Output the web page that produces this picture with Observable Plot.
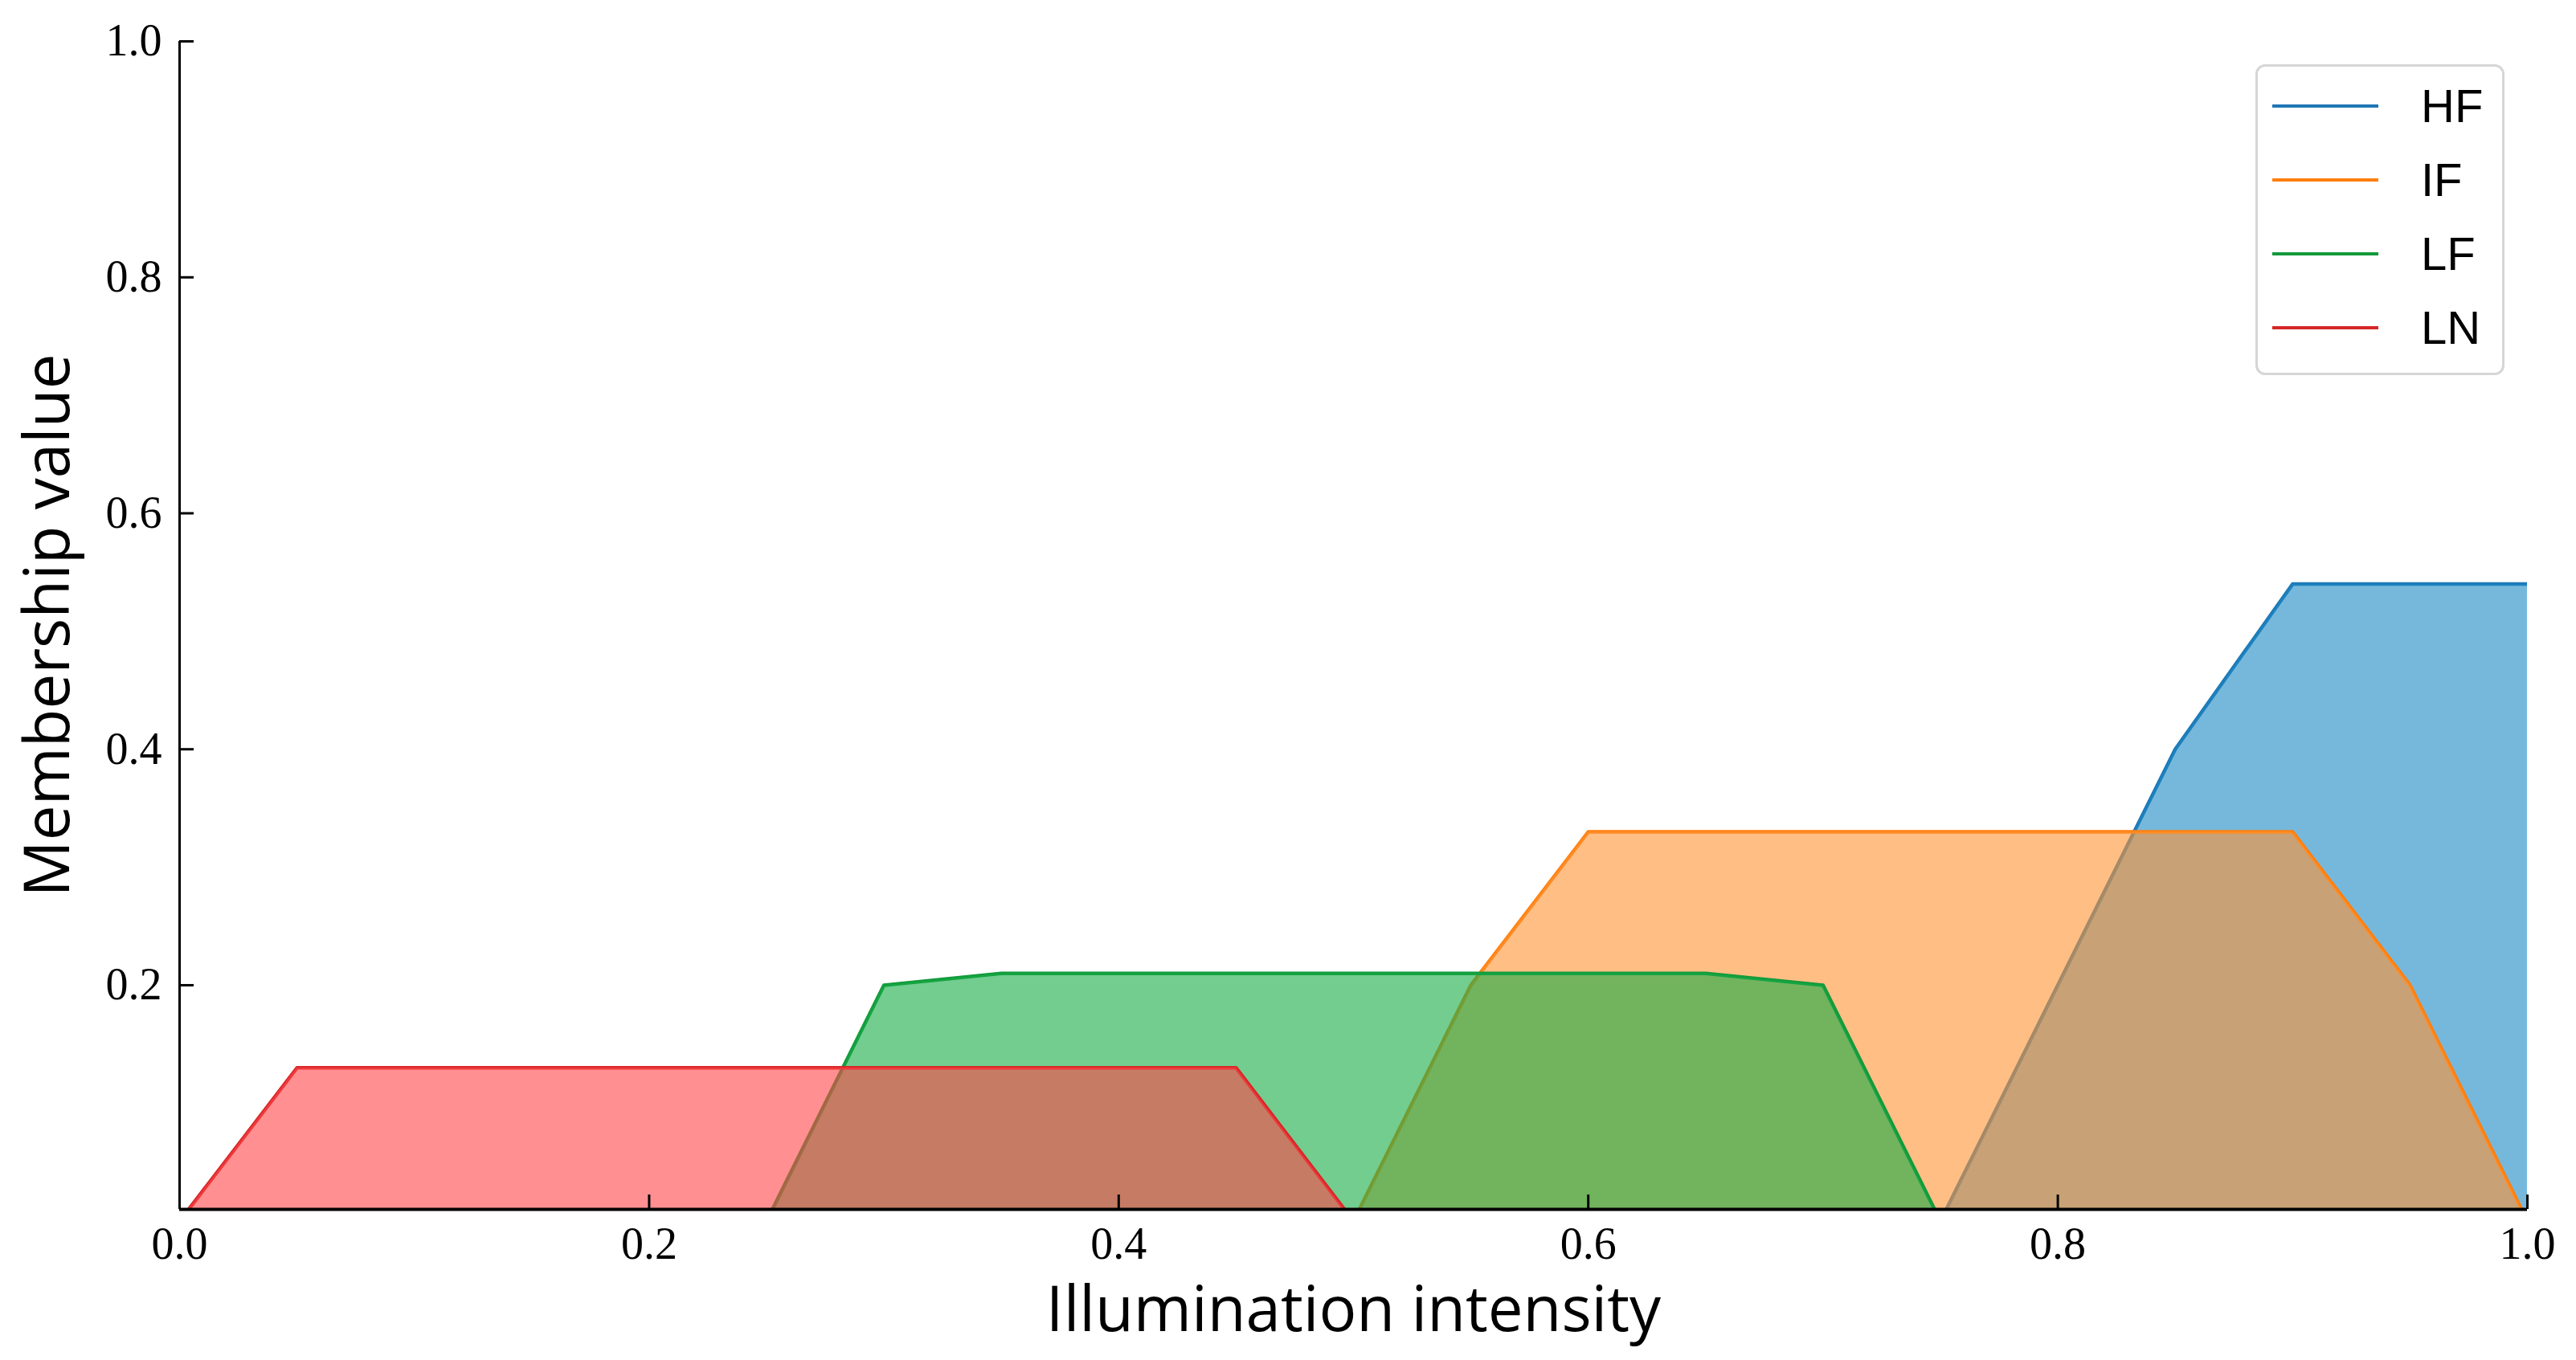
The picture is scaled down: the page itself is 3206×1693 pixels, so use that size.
<!DOCTYPE html>
<html>
<head>
<meta charset="utf-8">
<script src="https://cdn.jsdelivr.net/npm/d3@7"></script>
<script src="https://cdn.jsdelivr.net/npm/@observablehq/plot@0.6"></script>
<style>
html, body { margin: 0; padding: 0; background: #fff; }
#wrap { position: relative; width: 3206px; height: 1693px; }
#legend { position: absolute; left: 2807px; top: 80px; width: 304px; height: 381px;
  border: 3px solid #d6d6d6; border-radius: 12px; background: #fff; }
.row { position: absolute; left: 0; width: 100%; height: 0; }
.swatch { position: absolute; left: 18px; width: 132px; height: 4px; top: -2px; }
.lab { position: absolute; left: 203px; top: 0; transform: translateY(-50%);
  font-family: "Liberation Sans", Arial, sans-serif; font-size: 58px; line-height: 1; color: #000; }
</style>
</head>
<body>
<div id="wrap"></div>
<script>
// ---- data ----
const xDomain = [0, 1];
const yDomain = [0.01, 1];
const xTicks = [0, 0.2, 0.4, 0.6, 0.8, 1.0];
const yTicks = [0.2, 0.4, 0.6, 0.8, 1.0];
const seriesNames = ["HF", "IF", "LF", "LN"];

const hfX = [0.75, 0.85, 0.90, 1.00];
const hfY = [0.00, 0.40, 0.54, 0.54];
const ifX = [0.50, 0.55, 0.60, 0.90, 0.95, 1.00];
const ifY = [0.00, 0.20, 0.33, 0.33, 0.20, 0.00];
const lfX = [0.25, 0.30, 0.35, 0.65, 0.70, 0.75];
const lfY = [0.00, 0.20, 0.21, 0.21, 0.20, 0.00];
const lnX = [0.00, 0.05, 0.45, 0.50];
const lnY = [0.00, 0.13, 0.13, 0.00];

const lineColors = ["#1f77b4", "#ff7f0e", "#14993c", "#d62728"];
const fillColors = ["#1b89c5", "#ff9332", "#14ac44", "#ff4448"];

const xLabel = "Illumination intensity";
const yLabel = "Membership value";

// ---- build ----
const seriesX = [hfX, ifX, lfX, lnX];
const seriesY = [hfY, ifY, lfY, lnY];
const W = 3206, H = 1693, mL = 223, mR = 61, mT = 51, mB = 188;
const plotW = W - mL - mR, plotH = H - mT - mB;

const marks = [];
seriesNames.forEach((name, i) => {
  const rows = seriesX[i].map((x, j) => ({x, y: seriesY[i][j]}));
  marks.push(Plot.line(rows, {x: "x", y: "y", stroke: lineColors[i], strokeWidth: 4.5, clip: true}));
  marks.push(Plot.areaY(rows, {x: "x", y1: 0, y2: "y", fill: fillColors[i], fillOpacity: 0.6, clip: true}));
});

const tickFont = {fontFamily: "Liberation Serif, Times New Roman, serif", fontSize: 56};

marks.push(
  Plot.ruleX([xDomain[0]], {stroke: "#000", strokeWidth: 3}),
  Plot.ruleY([yDomain[0]], {stroke: "#000", strokeWidth: 4}),
  Plot.tickX(xTicks, {x: d => d, stroke: "#000", strokeWidth: 3, insetTop: plotH - 18}),
  Plot.tickY(yTicks, {y: d => d, stroke: "#000", strokeWidth: 3, insetRight: plotW - 18}),
  Plot.axisX({ticks: xTicks, tickSize: 0, tickPadding: 22, tickFormat: d3.format(".1f"), label: null, ...tickFont, fill: "#000"}),
  Plot.axisY({ticks: yTicks, tickSize: 0, tickPadding: 22, tickFormat: d3.format(".1f"), label: null, ...tickFont, fill: "#000"}),
  Plot.text([xLabel], {text: d => d, frameAnchor: "bottom", dy: 127, lineAnchor: "middle", textAnchor: "middle",
    fontFamily: "Open Sans, sans-serif", fontSize: 78, fill: "#000"}),
  Plot.text([yLabel], {text: d => d, frameAnchor: "left", dx: -162, rotate: -90, lineAnchor: "middle", textAnchor: "middle",
    fontFamily: "Open Sans, sans-serif", fontSize: 78, fill: "#000"})
);

const chart = Plot.plot({
  width: W, height: H,
  marginLeft: mL, marginRight: mR, marginTop: mT, marginBottom: mB,
  x: {domain: xDomain, axis: null},
  y: {domain: yDomain, axis: null},
  style: {background: "#fff", color: "#000", overflow: "visible"},
  marks
});

const wrap = document.getElementById("wrap");
wrap.appendChild(chart);

// legend
const legend = document.createElement("div");
legend.id = "legend";
seriesNames.forEach((name, i) => {
  const row = document.createElement("div");
  row.className = "row";
  row.style.top = (49 + i * 92) + "px";
  const sw = document.createElement("div");
  sw.className = "swatch";
  sw.style.background = lineColors[i];
  const lab = document.createElement("div");
  lab.className = "lab";
  lab.textContent = name;
  row.appendChild(sw); row.appendChild(lab);
  legend.appendChild(row);
});
wrap.appendChild(legend);
</script>
</body>
</html>
